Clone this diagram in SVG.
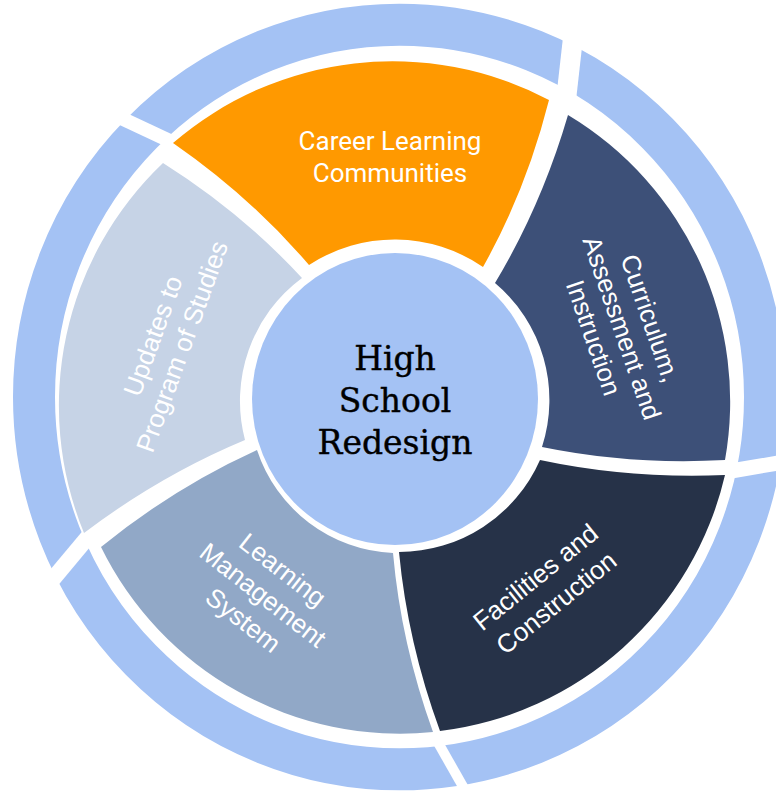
<svg xmlns="http://www.w3.org/2000/svg" width="776" height="793" viewBox="0 0 776 793">
  <style>
    .lbl { font-family: "Liberation Sans", Arial, sans-serif; font-size: 26px; fill: #ffffff; text-anchor: middle; }
    .career { font-family: Roboto, "Liberation Sans", sans-serif; font-size: 26px; fill: #ffffff; text-anchor: middle; }
    .title { font-family: "DejaVu Serif", "Liberation Serif", serif; font-size: 33px; fill: #000000; text-anchor: middle; stroke: #000000; stroke-width: 0.4px; }
    .gap { stroke: #ffffff; fill: none; stroke-linecap: butt; }
  </style>
  <rect width="776" height="793" fill="#ffffff"/>

  <g id="outer-ring">
    <ellipse cx="399.5" cy="397" rx="365.5" ry="372.3" fill="none" stroke="#A4C2F4" stroke-width="42"/>
    <line class="gap" x1="575" y1="20" x2="566" y2="100" stroke-width="20"/>
    <line class="gap" x1="106" y1="111" x2="170" y2="141" stroke-width="14"/>
    <line class="gap" x1="45" y1="588.5" x2="90.6" y2="533.9" stroke-width="16"/>
    <line class="gap" x1="436" y1="739" x2="470.4" y2="799.6" stroke-width="10"/>
    <line class="gap" x1="731" y1="471" x2="796" y2="460" stroke-width="15"/>
  </g>

  <g id="seg-career">
    <path d="M173,143 A336,336 0 0 1 549,100 Q526.5,189.4 483,267 A156,156 0 0 0 309,265 Q250.4,196.6 173,143 Z" fill="#FF9900"/>
    <text class="career" x="390" y="150">Career Learning</text>
    <text class="career" x="390" y="182">Communities</text>
  </g>

  <g id="seg-curriculum">
    <path d="M568,115 A334,334 0 0 1 725,460 Q630.8,465.2 542,447 A153,153 0 0 0 495,283 Q541.4,205.8 568,115 Z" fill="#3D5078"/>
    <g transform="translate(622,328) rotate(71)">
      <text class="lbl" x="0" y="-21">Curriculum,</text>
      <text class="lbl" x="0" y="9">Assessment and</text>
      <text class="lbl" x="0" y="39">Instruction</text>
    </g>
  </g>

  <g id="seg-facilities">
    <path d="M725,475 A334,334 0 0 1 440,731 Q407.6,642.7 399,552 A154,154 0 0 0 540,460 Q629.2,479 725,475 Z" fill="#263248"/>
    <g transform="translate(545.5,589.5) rotate(-39)">
      <text class="lbl" x="0" y="-7">Facilities and</text>
      <text class="lbl" x="0" y="26">Construction</text>
    </g>
  </g>

  <g id="seg-lms">
    <path d="M433,732 A333,333 0 0 1 101,547 Q174,487.6 257,450 A150,150 0 0 0 393,553 Q401,643.4 433,732 Z" fill="#91A8C7"/>
    <g transform="translate(263,595) rotate(38)">
      <text class="lbl" x="0" y="-23">Learning</text>
      <text class="lbl" x="0" y="9">Management</text>
      <text class="lbl" x="0" y="41">System</text>
    </g>
  </g>

  <g id="seg-updates">
    <path d="M84,533 A335,335 0 0 1 163,163 Q241.4,212.4 302,278 A153,153 0 0 0 245,440 Q160.2,475.3 84,533 Z" fill="#C6D3E6"/>
    <g transform="translate(167,341) rotate(-70)">
      <text class="lbl" x="0" y="-6">Updates to</text>
      <text class="lbl" x="0" y="25">Program of Studies</text>
    </g>
  </g>

  <g id="center">
    <ellipse cx="395" cy="399" rx="143" ry="146" fill="#A4C2F4"/>
    <text class="title" x="395" y="370">High</text>
    <text class="title" x="395" y="412">School</text>
    <text class="title" x="395" y="454">Redesign</text>
  </g>
</svg>
